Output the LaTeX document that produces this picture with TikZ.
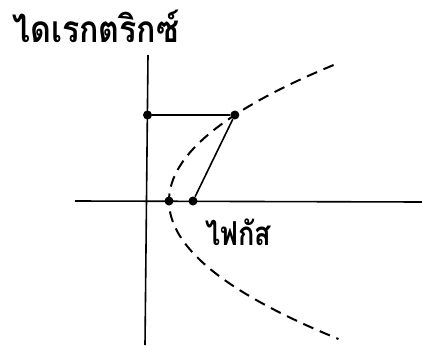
\documentclass[tikz,border=0pt]{standalone}
\usepackage{fontspec}
\newfontfamily\thaifont[Script=Thai]{Loma}
\begin{document}
\begin{tikzpicture}[x=1pt, y=-1pt,
  dot/.style={circle, fill=black, inner sep=0pt, minimum size=9pt},
  curve/.style={line width=2pt, dash pattern=on 11pt off 7pt},
  axis/.style={line width=1.6pt},
  thai/.style={inner sep=0pt, anchor=base west, font=\thaifont\bfseries\fontsize{#1}{#1}\selectfont}]
% Fix the picture size
\useasboundingbox (0,0) rectangle (422,345);
% Draw axes
\coordinate (xl) at (75,201);
\coordinate (xr) at (422,202);
\coordinate (yt) at (148,55);
\coordinate (yb) at (145,345);
\draw[axis] (xl) -- (xr);
\draw[axis] (yt) -- (yb);
% Draw parabola (dashed)
\draw[curve] plot[domain=-136:138, samples=80] ({169+(\x/10.6)^2}, {201+\x});
% Points on the axes and the curve
\node[dot] (V) at (169,201) {};
\node[dot] (F) at (193,201) {};
\node[dot] (P) at ({169+(86/10.6)^2},115) {};
\node[dot] (D) at (147.5,115) {};
% Draw equal distances
\draw[axis] (D) -- (P) -- (F);
% Labels
\node[thai=37] (directrix) at (12,43) {\scalebox{0.87}[1]{ไดเรกตริกซ์}};
\node[thai=33] (focus) at (205,245) {\scalebox{0.82}[1]{ไฟกัส}};
\end{tikzpicture}
\end{document}
